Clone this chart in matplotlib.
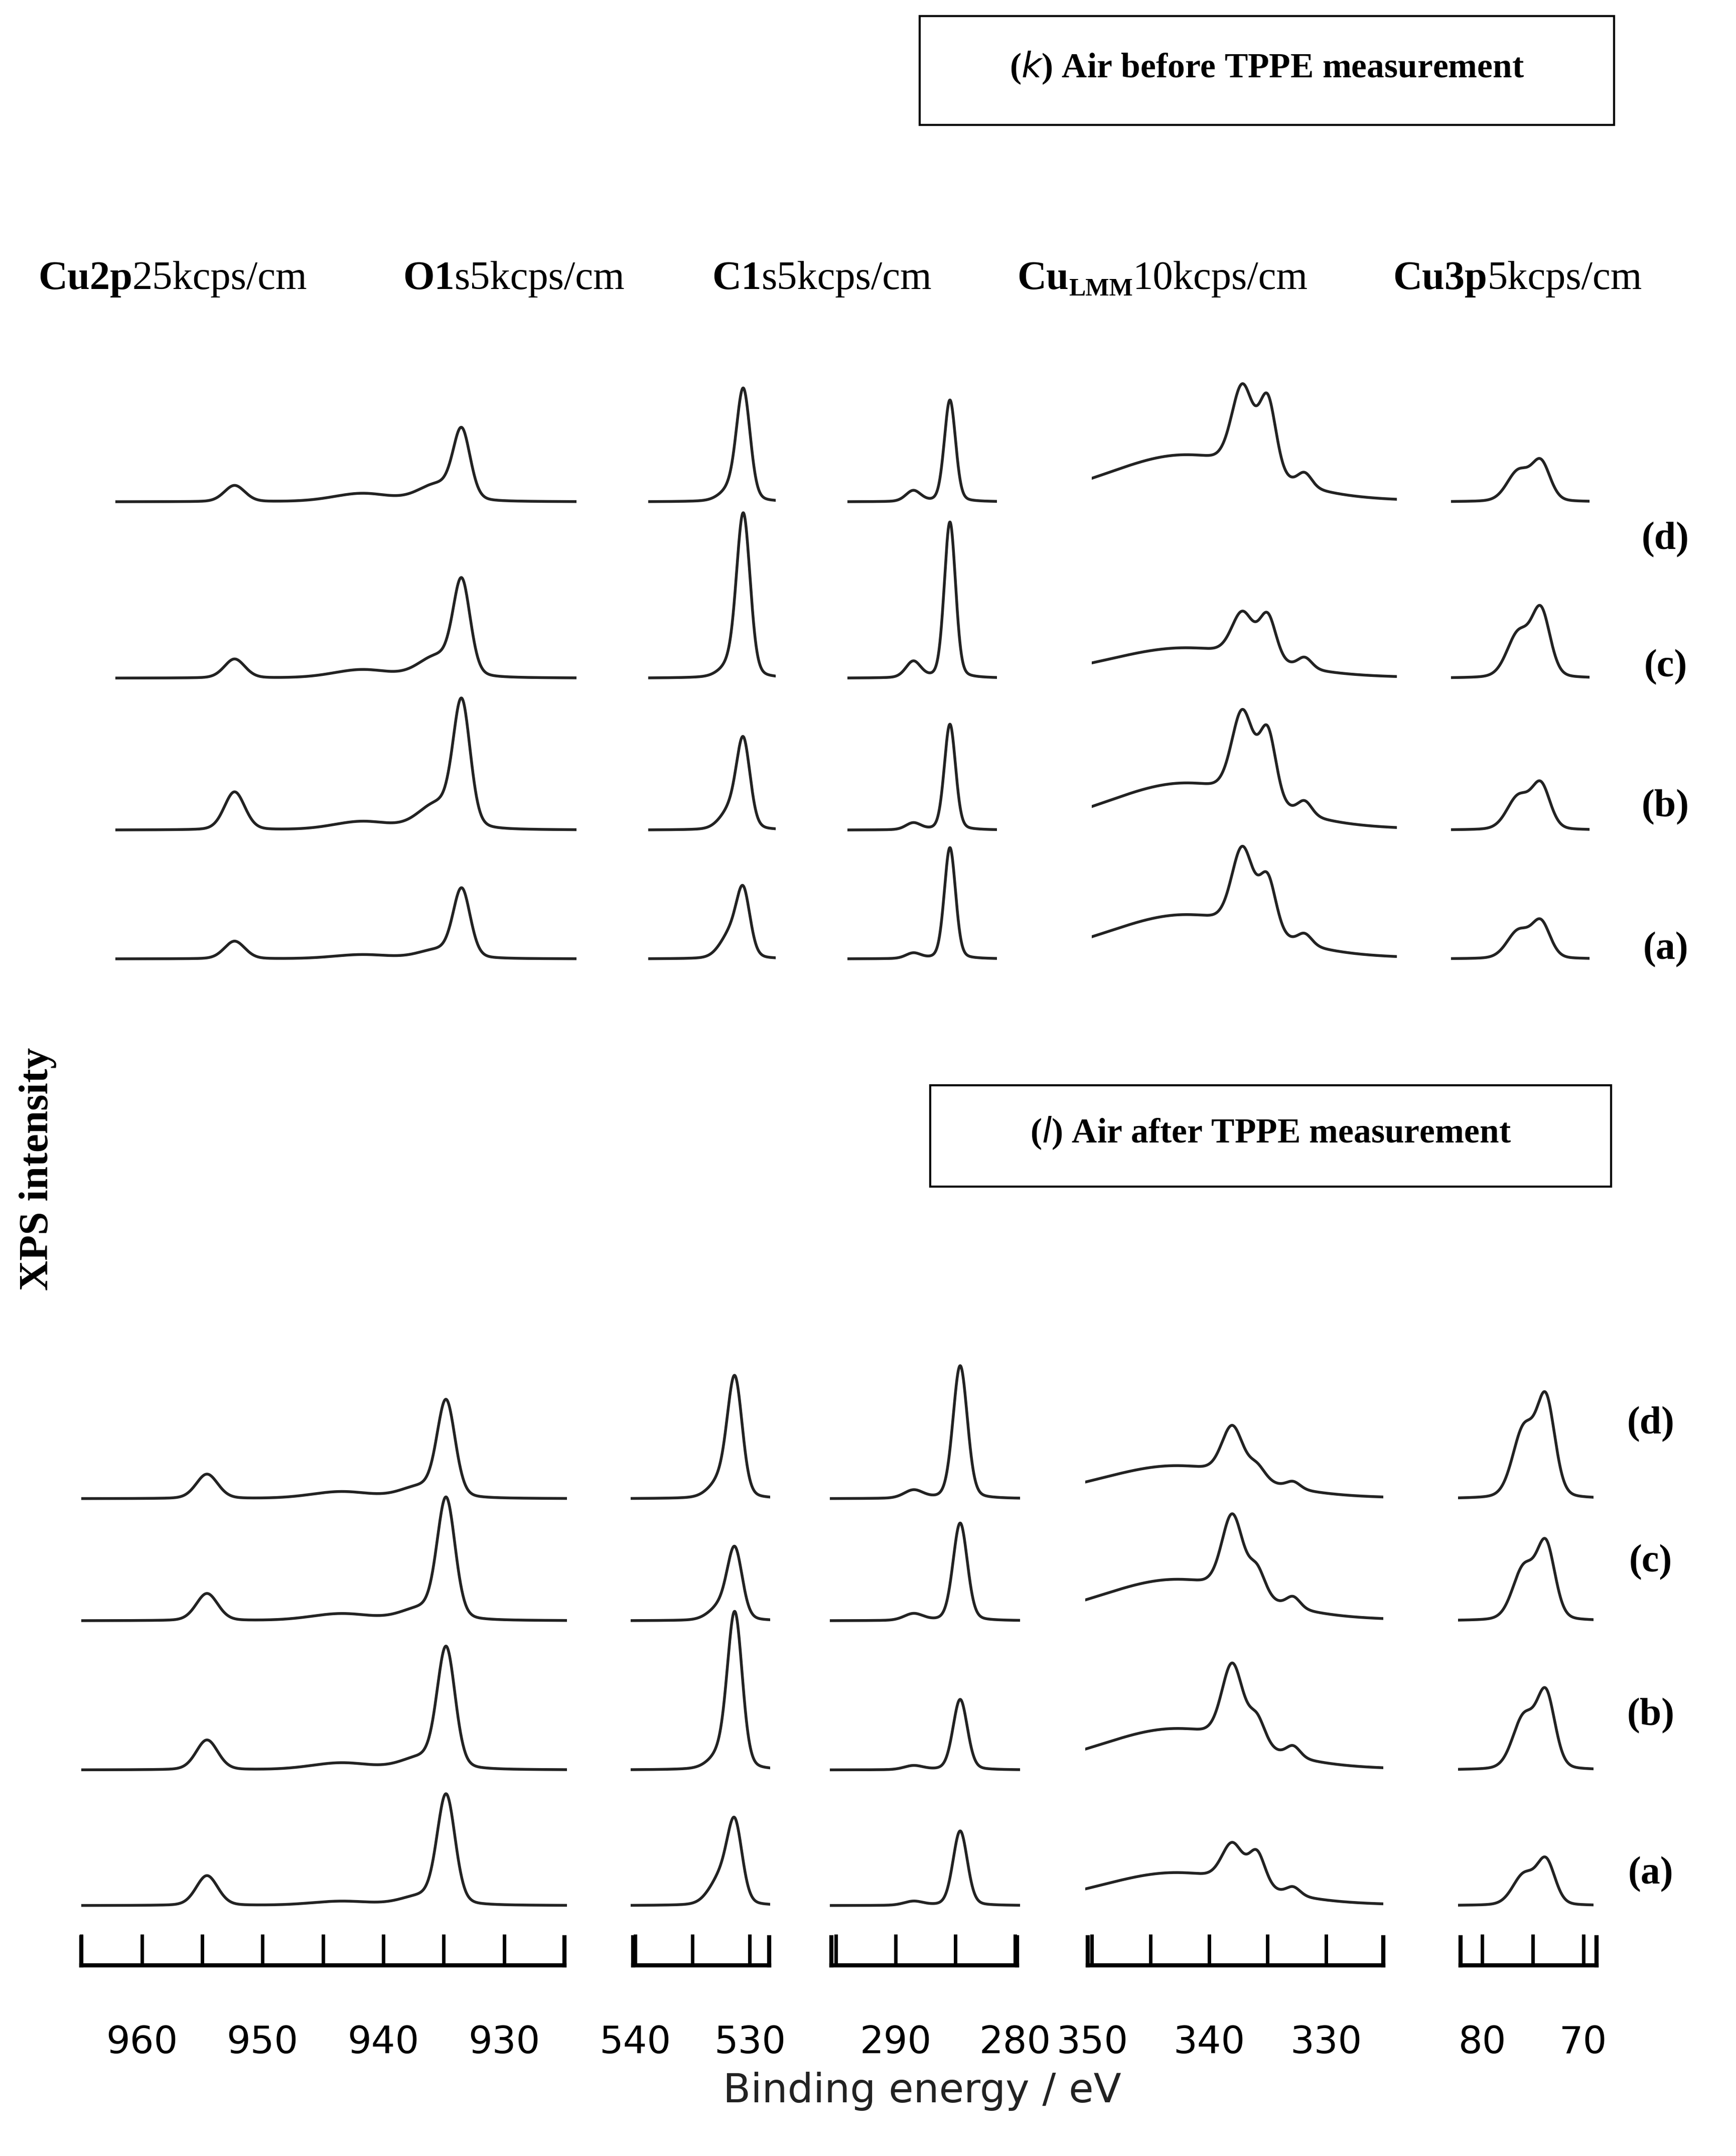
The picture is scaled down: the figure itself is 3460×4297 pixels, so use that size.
import numpy as np
import matplotlib
matplotlib.use("Agg")
import matplotlib.pyplot as plt
from matplotlib.patches import Rectangle

W, H = 1280.0, 1280.0 * 4297 / 3460
fig = plt.figure(figsize=(34.6, 42.97), dpi=100)
SERIF = ["Liberation Serif", "DejaVu Serif"]

def fx(x): return x / W
def fy(y): return 1 - y / H

# ---------------- data (peak parameters, heights in 1280px units) --------------
regions = ["Cu2p", "O1s", "C1s", "CuLMM", "Cu3p"]
xlims = {"Cu2p": (965.0, 924.8), "O1s": (540.4, 528.2), "C1s": (295.5, 279.6),
         "CuLMM": (350.6, 325.1), "Cu3p": (82.4, 69.0)}
# peaks: (center eV, width eV) per region
peak_pos = {"Cu2p": [(954.6, 0.9), (934.8, 0.75), (937.0, 1.6), (943.5, 2.5)],
            "O1s": [(531.3, 0.65), (532.5, 1.0)],
            "C1s": [(284.6, 0.6), (288.5, 0.8)],
            "CuLMM": [(343.0, 6.5), (338.0, 0.9), (335.9, 0.7), (332.8, 0.6)],
            "Cu3p": [(75.9, 1.1), (73.7, 0.9)]}
samples = ["(d)", "(c)", "(b)", "(a)"]
heights_k = {
    "Cu2p": [[12, 50, 12, 6], [14, 68, 15, 6], [28, 90, 18, 6], [13, 50, 6, 3]],
    "O1s": [[80, 8], [118, 8], [62, 14], [45, 18]],
    "C1s": [[75, 8], [115, 12], [78, 5], [82, 4]],
    "CuLMM": [[34, 60, 55, 10], [22, 32, 33, 8], [34, 62, 52, 10], [32, 58, 40, 8]],
    "Cu3p": [[22, 28], [32, 48], [24, 32], [20, 26]],
}
heights_l = {
    "Cu2p": [[18, 70, 8, 5], [20, 88, 8, 5], [22, 88, 8, 5], [22, 80, 6, 3]],
    "O1s": [[85, 12], [50, 10], [112, 10], [55, 20]],
    "C1s": [[98, 6], [72, 5], [52, 3], [55, 3]],
    "CuLMM": [[24, 36, 10, 5], [30, 56, 20, 8], [30, 56, 20, 8], [24, 28, 25, 6]],
    "Cu3p": [[50, 70], [38, 54], [38, 54], [22, 32]],
}
tick_labels = {"Cu2p": [960, 950, 940, 930], "O1s": [540, 530], "C1s": [290, 280],
               "CuLMM": [350, 340, 330], "Cu3p": [80, 70]}

# ---------------- layout (1280px reference coords) ----------------
cols_k = {"Cu2p": (85, 425), "O1s": (478, 572), "C1s": (625, 735), "CuLMM": (805, 1030), "Cu3p": (1070, 1172)}
cols_l = {"Cu2p": (60, 418), "O1s": (465, 568), "C1s": (612, 752), "CuLMM": (800, 1020), "Cu3p": (1075, 1175)}
rule_l = {"Cu2p": (60, 416), "O1s": (467, 567), "C1s": (613, 750), "CuLMM": (802, 1020), "Cu3p": (1077, 1177)}
base_k = [370, 500, 612, 707]
base_l = [1105, 1195, 1305, 1405]

def spectrum(reg, hs, e):
    y = np.zeros_like(e)
    for (c, w), h in zip(peak_pos[reg], hs):
        g = np.exp(-0.5 * ((e - c) / w) ** 2)
        lz = 1 / (1 + ((e - c) / (1.2 * w)) ** 2)
        y += h * (0.8 * g + 0.2 * lz)
    return y

def block(cols, bases, heights, top, bottom):
    for reg in regions:
        l, r = cols[reg]
        ax = fig.add_axes([fx(l), fy(bottom), fx(r) - fx(l), fy(top) - fy(bottom)])
        e = np.linspace(*xlims[reg], 800)
        for b, hs in zip(bases, heights[reg]):
            ax.plot(e, b - spectrum(reg, hs, e), color="#222222", lw=4)
        ax.set_xlim(*xlims[reg])
        ax.set_ylim(bottom, top)
        ax.axis("off")

block(cols_k, base_k, heights_k, 240, 730)
block(cols_l, base_l, heights_l, 975, 1425)

# ruler axes
for reg in regions:
    l, r = rule_l[reg]
    ax = fig.add_axes([fx(l), fy(1449), fx(r) - fx(l), 0.01])
    span = (xlims[reg][0] - xlims[reg][1]) / (cols_l[reg][1] - cols_l[reg][0])
    e0 = xlims[reg][0] - (l - cols_l[reg][0]) * span
    e1 = xlims[reg][1] + (cols_l[reg][1] - r) * span
    ax.set_xlim(e0, e1)
    for s in ["top", "left", "right"]:
        ax.spines[s].set_visible(False)
    ax.spines["bottom"].set_linewidth(6)
    ax.set_yticks([])
    lo, hi = sorted((e0, e1))
    maj = [v for v in np.arange(np.ceil((lo - 0.8) / 5) * 5, hi + 0.81, 5)]
    ax.set_xticks(maj)
    ax.set_xticklabels([str(int(v)) if v in tick_labels[reg] else "" for v in maj])
    ax.set_xlim(e0, e1)
    ax.tick_params(axis="x", direction="in", length=45, width=5, labelsize=54, pad=85)
    for v in (e0, e1):
        ax.axvline(v, ymin=0, ymax=1.3, color="black", lw=6, clip_on=False)

fig.text(fx(680), fy(1542), "Binding energy / eV", fontsize=58, ha="center", va="center", color="#222222")

# boxes and titles
for (x0, y0, x1, y1, lab, txt) in [(678, 12, 1190, 92, "k", " Air before TPPE measurement"),
                                   (686, 800, 1188, 875, "l", " Air after TPPE measurement")]:
    fig.patches.append(Rectangle((fx(x0), fy(y1)), fx(x1) - fx(x0), fy(y0) - fy(y1),
                                 transform=fig.transFigure, fill=False, lw=3, ec="black"))
    fig.text(fx((x0 + x1) / 2), fy((y0 + y1) / 2 - 2),
             "(" + r"$\mathbf{\it{" + lab + "}}$" + ")" + txt, fontsize=50, ha="center",
             va="center", family=SERIF, weight="bold")

# header labels (chained)
renderer = fig.canvas.get_renderer()
def chain(x, y, parts):
    xp = fx(x)
    for s, kw in parts:
        t = fig.text(xp, fy(y + kw.pop("dy", 0)), s, family=SERIF, va="baseline", **kw)
        bb = t.get_window_extent(renderer=renderer)
        xp += bb.width / fig.bbox.width

hy = 213
B = dict(fontsize=58, weight="bold")
N = dict(fontsize=58)
chain(28, hy, [("Cu2p", dict(B)), ("25kcps/cm", dict(N))])
chain(297, hy, [("O1", dict(B)), ("s5kcps/cm", dict(N))])
chain(525, hy, [("C1", dict(B)), ("s5kcps/cm", dict(N))])
chain(750, hy, [("Cu", dict(B)), ("LMM", dict(fontsize=36, weight="bold", dy=5)), ("10kcps/cm", dict(N))])
chain(1027, hy, [("Cu3p", dict(B)), ("5kcps/cm", dict(N))])

# sample labels
for x, ys in [(1228, [398, 492, 595, 700]), (1217, [1050, 1152, 1265, 1382])]:
    for s, y in zip(samples, ys):
        fig.text(fx(x), fy(y), s, fontsize=56, weight="bold", family=SERIF, ha="center", va="center")

fig.text(fx(28), fy(862), "XPS intensity", fontsize=60, weight="bold", family=SERIF,
         rotation=90, ha="center", va="center")

fig.savefig("out.png", dpi=100)
